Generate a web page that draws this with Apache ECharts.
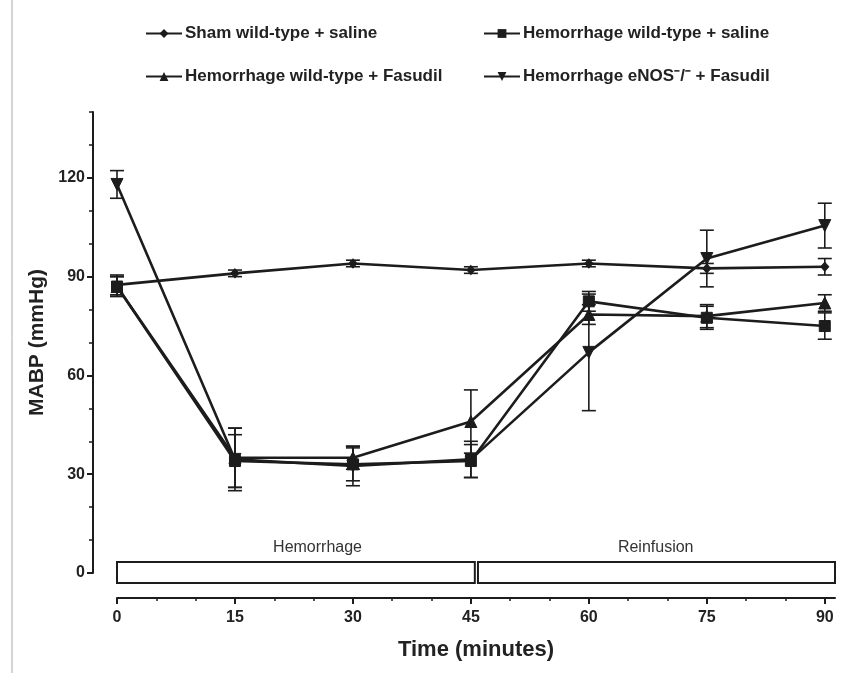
<!DOCTYPE html>
<html><head><meta charset="utf-8">
<script src="https://cdn.jsdelivr.net/npm/echarts@6/dist/echarts.min.js"></script>
<style>html,body{margin:0;padding:0;background:#fff}#c{width:845px;height:673px}</style>
</head><body><div id="c"></div>
<script>
const times = [0, 15, 30, 45, 60, 75, 90];
const seriesNames = ['Sham wild-type + saline', 'Hemorrhage wild-type + saline', 'Hemorrhage wild-type + Fasudil', 'Hemorrhage eNOS\u207B/\u207B + Fasudil'];
const shamMean = [87.5, 91, 94, 92, 94, 92.5, 93];
const shamErr = [3, 1, 1, 1, 1, 1.5, 2.5];
const hwsMean = [87, 34, 33, 34, 82.5, 77.5, 75];
const hwsErr = [3, 8, 5, 5, 3, 3.5, 4];
const hwfMean = [87, 35, 35, 46, 78.5, 78, 82];
const hwfErr = [3, 9, 3.5, 9.6, 3, 3.5, 2.5];
const henMean = [118, 34.5, 32.5, 34.5, 67, 95.5, 105.5];
const henErr = [4.2, 9.5, 6, 5.5, 17.7, 8.6, 6.8];
const xTickLabels = [0, 15, 30, 45, 60, 75, 90];
const xMinorTicks = [5, 10, 20, 25, 35, 40, 50, 55, 65, 70, 80, 85];
const yTickLabels = [0, 30, 60, 90, 120];
const yMinorTicks = [10, 20, 40, 50, 70, 80, 100, 110, 130, 140];
const phaseNames = ['Hemorrhage', 'Reinfusion'];
const phaseStart = [0, 45.9];
const phaseEnd = [45.5, 91.3];
const phaseLabelAt = [25.5, 68.5];

const FONT = '"Liberation Sans", Arial, Helvetica, sans-serif';
const INK = '#1c1c1c';
const means = [shamMean, hwsMean, hwfMean, henMean];
const errs = [shamErr, hwsErr, hwfErr, henErr];
const symbols = ['diamond', 'rect', 'triangle', 'triangle'];
const symSizes = [[8, 9], 11, 12, 12];
const symRot = [0, 0, 0, 180];

function errRender(params, api) {
  const x = api.value(0);
  const lo = api.coord([x, api.value(1)]);
  const hi = api.coord([x, api.value(2)]);
  const w = 7;
  const st = { stroke: INK, lineWidth: 1.6 };
  return { type: 'group', children: [
    { type: 'line', shape: { x1: lo[0], y1: lo[1], x2: hi[0], y2: hi[1] }, style: st },
    { type: 'line', shape: { x1: lo[0] - w, y1: lo[1], x2: lo[0] + w, y2: lo[1] }, style: st },
    { type: 'line', shape: { x1: hi[0] - w, y1: hi[1], x2: hi[0] + w, y2: hi[1] }, style: st }
  ]};
}

function phaseRender(params, api) {
  const i = params.dataIndex;
  const p0 = api.coord([api.value(0), 0]);
  const p1 = api.coord([api.value(1), 0]);
  const pl = api.coord([api.value(2), 0]);
  return { type: 'group', children: [
    { type: 'rect', shape: { x: p0[0], y: p0[1] - 11, width: p1[0] - p0[0], height: 21 },
      style: { fill: '#fff', stroke: INK, lineWidth: 2 } },
    { type: 'text', x: pl[0], y: p0[1] - 25,
      style: { text: phaseNames[i], fill: '#333', font: '16px ' + FONT, align: 'center', verticalAlign: 'middle' } }
  ]};
}

const series = [];
series.push({
  type: 'custom', name: 'phases', renderItem: phaseRender, clip: false, silent: true, z: 1,
  data: phaseStart.map((s, i) => [s, phaseEnd[i], phaseLabelAt[i]])
});
seriesNames.forEach((n, k) => {
  series.push({
    type: 'custom', name: n + ' err', renderItem: errRender, clip: false, silent: true, z: 2,
    data: times.map((t, i) => [t, means[k][i] - errs[k][i], means[k][i] + errs[k][i]])
  });
});
seriesNames.forEach((n, k) => {
  series.push({
    type: 'line', name: n, clip: false, z: 3,
    data: times.map((t, i) => [t, means[k][i]]),
    symbol: symbols[k], symbolSize: symSizes[k], symbolRotate: symRot[k], showAllSymbol: true,
    lineStyle: { color: INK, width: 2.6 },
    itemStyle: { color: INK, borderColor: INK },
    emphasis: { disabled: true }
  });
});

const legendPos = [[140, 20], [478, 20], [140, 63], [478, 63]];
const option = {
  animation: false,
  backgroundColor: '#fff',
  textStyle: { fontFamily: FONT },
  grid: { left: 117, right: 10, top: 112, bottom: 100 },
  legend: seriesNames.map((n, i) => ({
    data: [n], left: legendPos[i][0], top: legendPos[i][1], selectedMode: false,
    itemWidth: 36, itemHeight: 11, itemGap: 0,
    textStyle: { fontSize: 17, fontWeight: 'bold', color: '#222', fontFamily: FONT, padding: [0, 0, 0, -2] }
  })),
  xAxis: [{
    type: 'value', min: 0, max: 91.3, position: 'bottom', offset: 25,
    axisLine: { show: true, onZero: false, lineStyle: { color: INK, width: 2 } },
    axisTick: { show: true, customValues: xTickLabels, length: 6, lineStyle: { color: INK, width: 2 } },
    axisLabel: { customValues: xTickLabels, fontSize: 16, fontWeight: 'bold', color: '#222', margin: 12, fontFamily: FONT },
    splitLine: { show: false },
    name: 'Time (minutes)', nameLocation: 'middle', nameGap: 41,
    nameTextStyle: { fontSize: 22, fontWeight: 'bold', color: '#222', fontFamily: FONT }
  }, {
    type: 'value', min: 0, max: 91.3, position: 'bottom', offset: 25,
    axisLine: { show: false, onZero: false },
    axisTick: { show: true, customValues: xMinorTicks, length: 3, lineStyle: { color: INK, width: 1.5 } },
    axisLabel: { show: false }, splitLine: { show: false }
  }],
  yAxis: [{
    type: 'value', min: 0, max: 140, position: 'left', offset: 24,
    axisLine: { show: true, onZero: false, lineStyle: { color: INK, width: 2 } },
    axisTick: { show: true, customValues: yTickLabels, length: 6, lineStyle: { color: INK, width: 2 } },
    axisLabel: { customValues: yTickLabels, fontSize: 16, fontWeight: 'bold', color: '#222', margin: 8, fontFamily: FONT },
    splitLine: { show: false },
    name: 'MABP (mmHg)', nameLocation: 'middle', nameGap: 44, nameRotate: 90,
    nameTextStyle: { fontSize: 21, fontWeight: 'bold', color: '#222', fontFamily: FONT }
  }, {
    type: 'value', min: 0, max: 140, position: 'left', offset: 24,
    axisLine: { show: false, onZero: false },
    axisTick: { show: true, customValues: yMinorTicks, length: 4, lineStyle: { color: INK, width: 1.5 } },
    axisLabel: { show: false }, splitLine: { show: false }
  }],
  graphic: [{ type: 'line', shape: { x1: 12, y1: 0, x2: 12, y2: 673 }, style: { stroke: '#aaa', lineWidth: 1 } }],
  series: series
};
const chart = echarts.init(document.getElementById('c'), null, { renderer: 'canvas' });
chart.setOption(option);
</script></body></html>
